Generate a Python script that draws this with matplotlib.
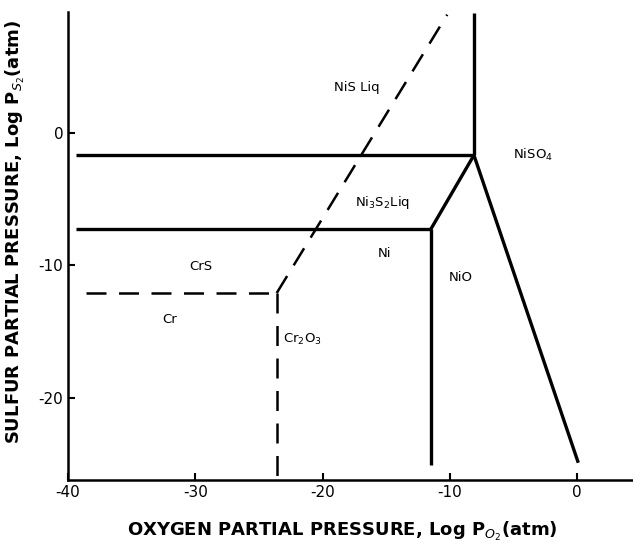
import matplotlib
matplotlib.use("Agg")
from matplotlib import pyplot as plt

# phase boundaries, log PO2 vs log PS2
triple = (-8.1, -1.7)
ni_corner = (-11.5, -7.3)
cr_corner = (-23.6, -12.1)

upper_h_x = [-39.4, triple[0]]
upper_h_y = [triple[1], triple[1]]
lower_h_x = [-39.4, ni_corner[0]]
lower_h_y = [ni_corner[1], ni_corner[1]]
up_v_x = [triple[0], triple[0]]
up_v_y = [triple[1], 9.0]
ni_v_x = [ni_corner[0], ni_corner[0]]
ni_v_y = [ni_corner[1], -25.1]
diag_x = [ni_corner[0], triple[0]]
diag_y = [ni_corner[1], triple[1]]
niso4_x = [triple[0], 0.1]
niso4_y = [triple[1], -24.9]

cr_h_x = [-38.6, cr_corner[0]]
cr_h_y = [cr_corner[1], cr_corner[1]]
cr_v_x = [cr_corner[0], cr_corner[0]]
cr_v_y = [cr_corner[1], -26.2]
cr_d_x = [cr_corner[0], -10.2]
cr_d_y = [cr_corner[1], 8.9]

labels = ["NiS Liq", "NiSO$_4$", "Ni$_3$S$_2$Liq", "Ni", "NiO", "CrS", "Cr", "Cr$_2$O$_3$"]
label_x = [-17.3, -3.5, -15.3, -15.1, -9.1, -29.6, -32.0, -21.6]
label_y = [3.4, -1.7, -5.3, -9.1, -10.9, -10.1, -14.1, -15.6]

xticks = [-40, -30, -20, -10, 0]
yticks = [0, -10, -20]

fig = plt.figure(figsize=(6.33, 5.47), dpi=100)
ax = fig.add_axes([68/633, 1-480/547, 1-68/633, 468/547])

solid = dict(color="black", lw=2.4, solid_capstyle="butt")
for xs, ys in [(upper_h_x, upper_h_y), (lower_h_x, lower_h_y), (up_v_x, up_v_y),
               (ni_v_x, ni_v_y), (diag_x, diag_y), (niso4_x, niso4_y)]:
	ax.plot(xs, ys, **solid)

dash = dict(color="black", lw=1.8, dashes=(8, 5))
for xs, ys in [(cr_h_x, cr_h_y), (cr_v_x, cr_v_y), (cr_d_x, cr_d_y)]:
	ax.plot(xs, ys, **dash)

for t, x, y in zip(labels, label_x, label_y):
	ax.text(x, y, t, ha="center", va="center", fontsize=9.5)

ax.set_xlim(-40, 4.4)
ax.set_ylim(-26.2, 9.1)
ax.set_xticks(xticks)
ax.set_yticks(yticks)
ax.set_xticklabels([str(v) for v in xticks])
ax.set_yticklabels([str(v) for v in yticks])
ax.tick_params(direction="in", length=5, width=1.5, labelsize=11)
ax.spines["top"].set_visible(False)
ax.spines["right"].set_visible(False)
ax.spines["left"].set_linewidth(1.8)
ax.spines["bottom"].set_linewidth(1.8)

ax.set_xlabel("OXYGEN PARTIAL PRESSURE, Log P$_{O_2}$(atm)", fontsize=13, fontweight="bold")
ax.set_ylabel("SULFUR PARTIAL PRESSURE, Log P$_{S_2}$(atm)", fontsize=13, fontweight="bold")
ax.xaxis.set_label_coords(0.485, -0.085)
ax.yaxis.set_label_coords(-0.073, 0.53)

fig.savefig("out.png", dpi=100)
